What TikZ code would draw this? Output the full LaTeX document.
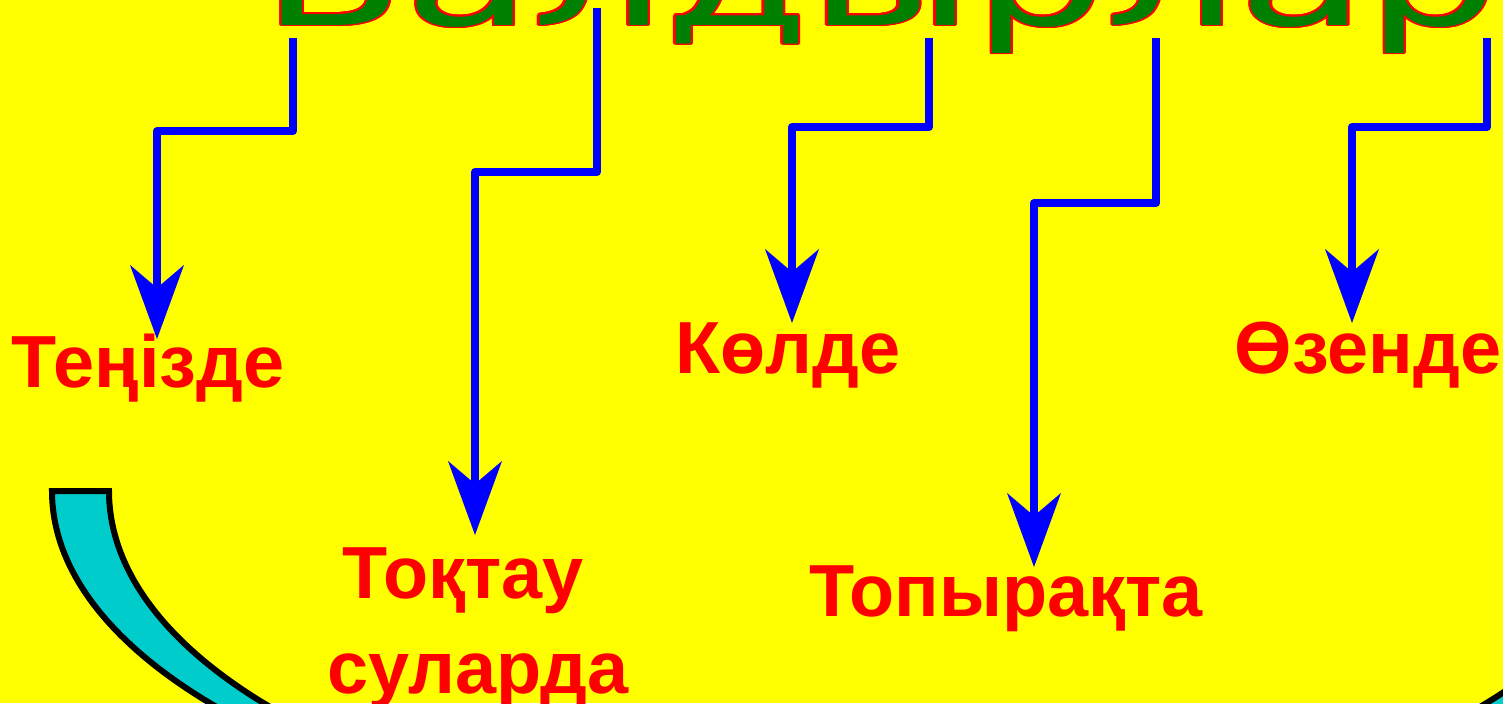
\documentclass[tikz,border=0pt]{standalone}
\usepackage{fontspec}
\setmainfont{Liberation Sans}
\newfontfamily\titlefont{DejaVu Sans}
\usetikzlibrary{arrows.meta}
\definecolor{bg}{HTML}{FFFF00}
\definecolor{ttlgreen}{HTML}{008000}
\definecolor{bandcyan}{HTML}{00CCCC}
\newlength\rimx
\newlength\rimy
\newcommand\rimtext[1]{\leavevmode
  \foreach \ang in {0,22.5,...,337.5}{%
    \pgfmathsetlength\rimx{1.1pt*cos(\ang)}%
    \pgfmathsetlength\rimy{1.1pt*sin(\ang)}%
    \rlap{\hspace*{\rimx}\raisebox{\rimy}{\color{red}#1}}}%
  {\color{ttlgreen}#1}}
\tikzset{
  lbl/.style={text=red, font=\bfseries\fontsize{21pt}{27pt}\selectfont, inner sep=0pt},
  arr/.style={draw=blue, line width=0.08cm, line join=round,
    -{Stealth[length=0.74cm, width=0.54cm, inset=0.23cm, line width=0pt]}},
  band/.style={draw=black, fill=bandcyan, line width=0.06cm, line join=miter}
}
\begin{document}
\begin{tikzpicture}[x=0.01cm, y=-0.01cm]
\clip (0,0) rectangle (1503,703);
\fill[bg] (0,0) rectangle (1503,703);
% title
\node[anchor=base west, inner sep=0pt] (title) at (261,25)
  {\scalebox{0.592}[0.383]{\titlefont\fontsize{100pt}{100pt}\selectfont\rimtext{Балдырлар}}};
% band
\draw[band] (52,491) arc[start angle=180, end angle=0, x radius=823, y radius=360]
  -- ++(-57,0) arc[start angle=0, end angle=180, x radius=766, y radius=352] -- cycle;
% labels
\node[lbl, anchor=base] (tenizde) at (148,387) {Теңізде};
\node[lbl, anchor=base] (kolde) at (788,373) {Көлде};
\node[lbl, anchor=base] (ozende) at (1368,373) {Өзенде};
\node[lbl, anchor=base] (topyrakta) at (1006,616) {Топырақта};
\node[lbl, anchor=base, align=center] (toktau) at (478,693) {Тоқтау\hspace*{0.3cm}\\суларда};
% arrow coordinates
\coordinate (s1) at (293,38);   \coordinate (k1) at (157,131);  \coordinate (e1) at (157,339);
\coordinate (s2) at (597,8);    \coordinate (k2) at (475,172);  \coordinate (e2) at (475,535);
\coordinate (s3) at (929,38);   \coordinate (k3) at (792,127);  \coordinate (e3) at (792,323);
\coordinate (s4) at (1156,38);  \coordinate (k4) at (1034,203); \coordinate (e4) at (1034,567);
\coordinate (s5) at (1487,38);  \coordinate (k5) at (1352,127); \coordinate (e5) at (1352,323);
\draw[arr] (s1) |- (k1) -- (e1);
\draw[arr] (s2) |- (k2) -- (e2);
\draw[arr] (s3) |- (k3) -- (e3);
\draw[arr] (s4) |- (k4) -- (e4);
\draw[arr] (s5) |- (k5) -- (e5);
\end{tikzpicture}
\end{document}
